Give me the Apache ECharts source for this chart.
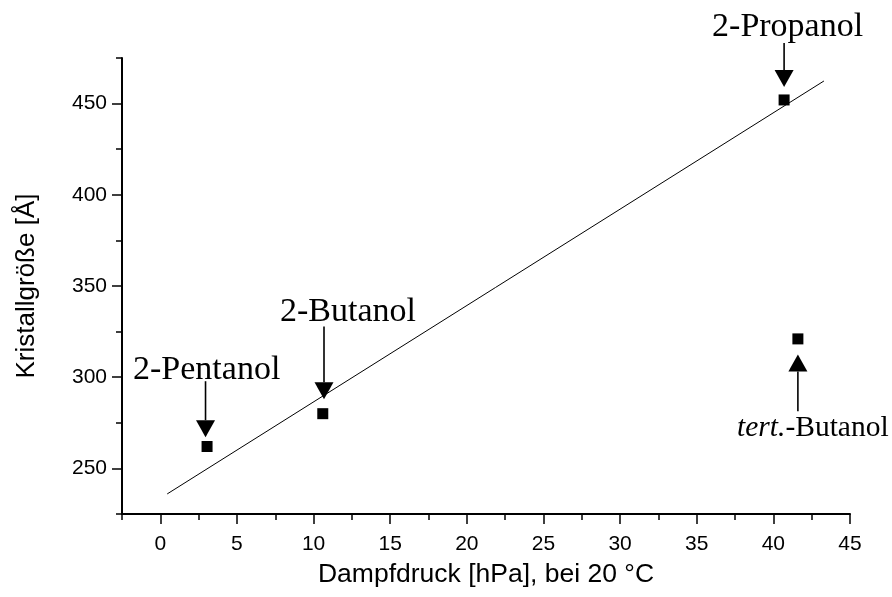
<!DOCTYPE html>
<html>
<head>
<meta charset="utf-8">
<script src="https://cdn.jsdelivr.net/npm/echarts@6/dist/echarts.min.js"></script>
<style>html,body{margin:0;padding:0;background:#fff}#c{width:892px;height:597px}</style>
</head>
<body>
<div id="c"></div>
<script>
// ---- data ----
const alcohols = ['2-Propanol', '2-Butanol', '2-Pentanol', 'tert.-Butanol'];
const vaporPressure = [40.7, 10.6, 3.05, 41.6];   // hPa at 20 °C
const crystalSize = [452, 280, 262, 321];          // Å
const fitX = [0.45, 43.3];
const fitY = [236, 462.4];
const xMajorTicks = [0, 5, 10, 15, 20, 25, 30, 35, 40, 45];
const xMinorTicks = [-2.5, 2.5, 7.5, 12.5, 17.5, 22.5, 27.5, 32.5, 37.5, 42.5];
const yMajorTicks = [250, 300, 350, 400, 450];
const yMinorTicks = [225, 275, 325, 375, 425, 475];
// annotation arrows (data units): [x, yStart, yTip]
const arrowX = [40.7, 10.68, 2.95, 41.6];
const arrowFromY = [483.2, 327.8, 297.8, 281.3];
const arrowToY = [459.1, 287.9, 267.1, 312.5];
// annotation text anchors (data units): left edge, baseline
const labelX = [36.0, 7.81, -1.78, 37.63];
const labelY = [487.0, 330.6, 298.9, 267.7];
const labelSize = [34, 34, 34, 29.5];

const chart = echarts.init(document.getElementById('c'), null, {renderer: 'canvas'});
const sans = '"Liberation Sans", Arial, Helvetica, sans-serif';
const serif = '"Liberation Serif", "Times New Roman", serif';

const xBase = {type: 'value', min: -2.5, max: 45, gridIndex: 0, splitLine: {show: false}};
const yBase = {type: 'value', min: 225, max: 475, gridIndex: 0, splitLine: {show: false}};

chart.setOption({
  animation: false,
  backgroundColor: '#fff',
  grid: {left: 122, right: 42, top: 58, bottom: 83, containLabel: false},
  xAxis: [
    Object.assign({}, xBase, {
      position: 'bottom',
      axisLine: {show: true, onZero: false, lineStyle: {color: '#000', width: 2}},
      axisTick: {show: true, inside: false, length: 10, lineStyle: {color: '#000', width: 1.5}, customValues: xMajorTicks},
      axisLabel: {show: true, margin: 20, color: '#000', fontSize: 21, fontFamily: sans, customValues: xMajorTicks},
      name: 'Dampfdruck [hPa], bei 20 °C', nameLocation: 'middle', nameGap: 47,
      nameTextStyle: {color: '#000', fontSize: 26.5, fontFamily: sans}
    }),
    Object.assign({}, xBase, {
      position: 'bottom',
      axisLine: {show: false, onZero: false},
      axisTick: {show: true, inside: false, length: 6, lineStyle: {color: '#000', width: 1.5}, customValues: xMinorTicks},
      axisLabel: {show: false}
    })
  ],
  yAxis: [
    Object.assign({}, yBase, {
      position: 'left',
      axisLine: {show: true, onZero: false, lineStyle: {color: '#000', width: 2}},
      axisTick: {show: true, inside: false, length: 10, lineStyle: {color: '#000', width: 1.5}, customValues: yMajorTicks},
      axisLabel: {show: true, margin: 15, color: '#000', fontSize: 21, fontFamily: sans, customValues: yMajorTicks},
      name: 'Kristallgröße [Å]', nameLocation: 'middle', nameGap: 82,
      nameTextStyle: {color: '#000', fontSize: 26, fontFamily: sans}
    }),
    Object.assign({}, yBase, {
      position: 'left',
      axisLine: {show: false, onZero: false},
      axisTick: {show: true, inside: false, length: 6, lineStyle: {color: '#000', width: 1.5}, customValues: yMinorTicks},
      axisLabel: {show: false}
    })
  ],
  series: [
    {
      type: 'line', xAxisIndex: 0, yAxisIndex: 0,
      data: fitX.map((x, i) => [x, fitY[i]]),
      symbol: 'none', lineStyle: {color: '#000', width: 1}, silent: true, z: 2
    },
    {
      type: 'scatter', xAxisIndex: 0, yAxisIndex: 0,
      data: vaporPressure.map((x, i) => ({value: [x, crystalSize[i]], name: alcohols[i]})),
      symbol: 'rect', symbolSize: 11, itemStyle: {color: '#000', opacity: 1}, z: 3
    }
  ]
});

// annotations from data coordinates
const graphics = [];
const headLen = 17, headHalf = 9.5;
for (let i = 0; i < alcohols.length; i++) {
  const p0 = chart.convertToPixel({gridIndex: 0}, [arrowX[i], arrowFromY[i]]);
  const p1 = chart.convertToPixel({gridIndex: 0}, [arrowX[i], arrowToY[i]]);
  const dir = p1[1] > p0[1] ? 1 : -1;
  const baseY = p1[1] - dir * headLen;
  graphics.push({type: 'line', shape: {x1: p0[0], y1: p0[1], x2: p0[0], y2: baseY}, style: {stroke: '#000', lineWidth: 1.6}, z: 10});
  graphics.push({type: 'polygon', shape: {points: [[p1[0] - headHalf, baseY], [p1[0] + headHalf, baseY], [p1[0], p1[1]]]}, style: {fill: '#000'}, z: 10});
  const t = chart.convertToPixel({gridIndex: 0}, [labelX[i], labelY[i]]);
  const name = alcohols[i];
  const fs = labelSize[i];
  let text, rich;
  if (name.indexOf('tert.') === 0) {
    text = '{i|tert.}{n|' + name.slice(5) + '}';
    rich = {i: {fontStyle: 'italic', fontSize: fs, fontFamily: serif, fill: '#000'}, n: {fontSize: fs, fontFamily: serif, fill: '#000'}};
  } else {
    text = name;
  }
  graphics.push({
    type: 'text', x: t[0], y: t[1] + fs * 0.235, z: 10,
    style: {text: text, rich: rich, fill: '#000', fontSize: fs, fontFamily: serif, align: 'left', verticalAlign: 'bottom'}
  });
}
chart.setOption({graphic: graphics});
</script>
</body>
</html>
